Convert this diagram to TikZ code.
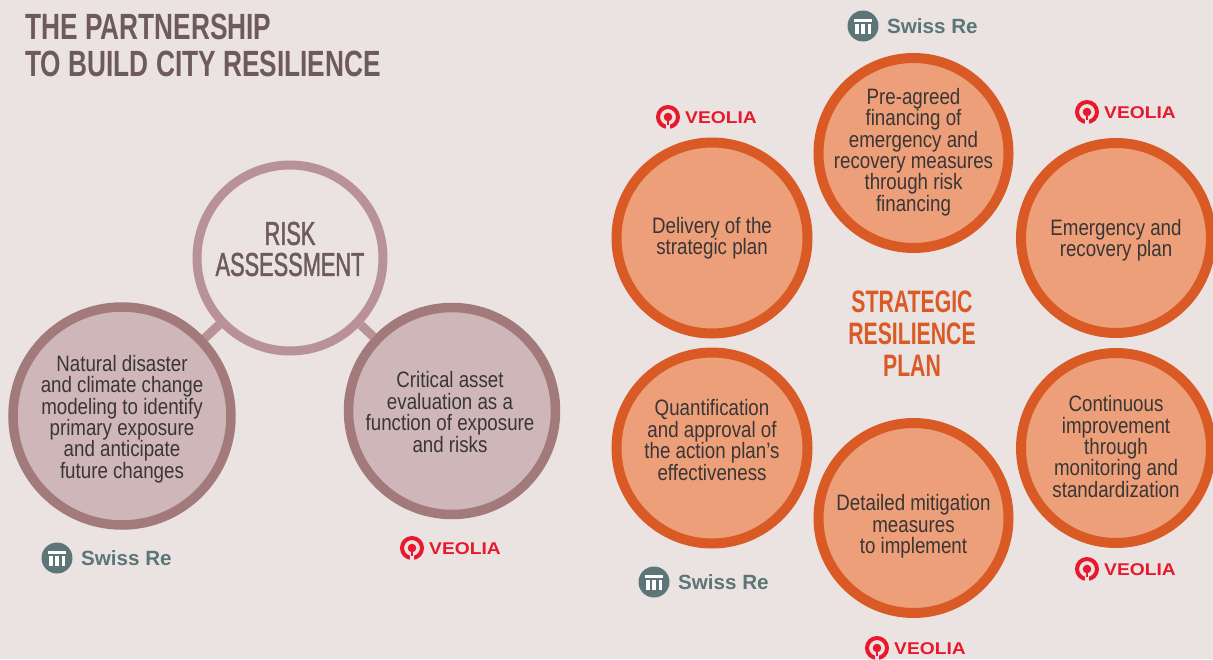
\documentclass[tikz,border=0pt]{standalone}
\usepackage{fontspec}
\setmainfont{Liberation Sans}
\newfontfamily\condf[FakeStretch=0.84]{Liberation Sans}
\newfontfamily\riskf[FakeStretch=0.66]{Liberation Sans}
\newfontfamily\titlef[FakeStretch=0.72]{Liberation Sans Bold}
\newfontfamily\planf[FakeStretch=0.685]{Liberation Sans Bold}
\newfontfamily\veof[FakeStretch=1.13]{Liberation Sans Bold}
\newfontfamily\swissf{Liberation Sans Bold}
\newcommand{\heavier}[1]{\special{pdf:code 2 Tr 0.45 w}#1\special{pdf:code 0 Tr 1 w}}
\usetikzlibrary{backgrounds,calc}
\definecolor{bg}{HTML}{EAE3E2}
\definecolor{ringA}{HTML}{B99297}
\definecolor{ringB}{HTML}{A37A7B}
\definecolor{fillB}{HTML}{CFB6B8}
\definecolor{ringC}{HTML}{DA5A25}
\definecolor{fillC}{HTML}{EC9F78}
\definecolor{titleC}{HTML}{6E5A5C}
\definecolor{teal}{HTML}{5C7677}
\definecolor{veored}{HTML}{E8192C}
\definecolor{txt}{HTML}{3A3536}
\tikzset{
 x=1pt,y=-1pt,
 bubble/.style={circle,inner sep=0pt},
 inside/.style={inner sep=0pt,align=center,text=txt,font=\condf\fontsize{22.3}{21.4}\selectfont},
 rose/.style={bubble,draw=ringB,fill=fillB,line width=9.5pt},
 orange/.style={bubble,draw=ringC,fill=fillC,line width=10pt},
 link/.style={ringA,line width=9pt},
 swisstext/.style={inner sep=0pt,anchor=west,text=teal,font=\swissf\fontsize{20.6}{22}\selectfont},
 veotext/.style={inner sep=0pt,anchor=west,text=veored,font=\veof\fontsize{17}{18}\selectfont},
}
% #1 node name, #2 x of icon centre, #3 y of icon centre
\newcommand{\swisslogo}[3]{%
 \node[circle,fill=teal,minimum size=31pt,inner sep=0pt] (#1i) at (#2,#3) {};
 \fill[white] ($(#1i.center)+(-9,-7)$) rectangle ($(#1i.center)+(9,-4)$);
 \fill[white] ($(#1i.center)+(-8,-2)$) rectangle ($(#1i.center)+(-4.5,8)$);
 \fill[white] ($(#1i.center)+(-1.7,-2)$) rectangle ($(#1i.center)+(1.7,8)$);
 \fill[white] ($(#1i.center)+(4.5,-2)$) rectangle ($(#1i.center)+(8,8)$);
 \node[swisstext] (#1t) at ($(#1i.center)+(24,0)$) {Swiss Re};
}
\newcommand{\veologo}[3]{%
 \node[circle,draw=veored,line width=4pt,minimum size=20pt,inner sep=0pt] (#1i) at (#2,#3) {};
 \fill[veored] (#1i.center) circle (4.3);
 \fill[bg] ($(#1i.center)+(-2,6)$) rectangle ($(#1i.center)+(2,13.5)$);
 \fill[veored] ($(#1i.center)+(-1.4,3)$) rectangle ($(#1i.center)+(1.4,8)$);
 \node[veotext] (#1t) at ($(#1i.center)+(17,1)$) {VEOLIA};
}
\begin{document}
\begin{tikzpicture}
\useasboundingbox (0,0) rectangle (1213,659);
\begin{scope}[on background layer]
 \fill[bg] (0,0) rectangle (1213,659);
\end{scope}
\node[inner sep=0pt,anchor=north west,align=left,text=titleC,font=\titlef\fontsize{36.5}{36.5}\selectfont] (title) at (25,14)
 {THE PARTNERSHIP\\TO BUILD CITY RESILIENCE};

\node[bubble,draw=ringA,fill=bg,line width=9pt,minimum size=186pt,
 label={[inner sep=0pt,align=center,text=titleC,font=\riskf\fontsize{33}{31}\selectfont,yshift=9pt]center:\heavier{RISK}\\\heavier{ASSESSMENT}}] (risk) at (290,258) {};
\node[rose,minimum size=218pt,
 label={[inside,yshift=-3pt]center:Natural disaster\\and climate change\\modeling to identify\\primary exposure\\and anticipate\\future changes}] (nat) at (122,416) {};
\node[rose,minimum size=207pt,
 label={[inside,yshift=-1pt,xshift=-2pt]center:Critical asset\\evaluation as a\\function of exposure\\and risks}] (crit) at (452,411) {};
\begin{scope}[on background layer]
 \draw[link] (risk) -- (nat);
 \draw[link] (risk) -- (crit);
\end{scope}
\swisslogo{s1}{57}{558}
\veologo{v1}{412}{548}

\node[orange,minimum size=190pt,
 label={[inside,yshift=1pt]center:Pre-agreed\\financing of\\emergency and\\recovery measures\\through risk\\financing}] (fin) at (913.5,153) {};
\node[orange,minimum size=191pt,
 label={[inside,yshift=-0.5pt]center:Delivery of the\\strategic plan}] (del) at (712,238) {};
\node[orange,minimum size=190pt,
 label={[inside,yshift=-2pt]center:Emergency and\\recovery plan}] (eme) at (1116,238) {};
\node[orange,minimum size=191pt,
 label={[inside,yshift=8pt]center:Quantification\\and approval of\\the action plan’s\\effectiveness}] (qua) at (712,448) {};
\node[orange,minimum size=190pt,
 label={[inside,yshift=1.5pt]center:Continuous\\improvement\\through\\monitoring and\\standardization}] (con) at (1116,448) {};
\node[orange,minimum size=190pt,
 label={[inside,yshift=-8.5pt]center:Detailed mitigation\\measures\\to implement}] (det) at (913.5,518) {};
\node[inner sep=0pt,align=center,text=ringC,font=\planf\fontsize{31}{32}\selectfont] (plan) at (912,334) {STRATEGIC\\RESILIENCE\\PLAN};

\swisslogo{s2}{863}{26}
\swisslogo{s3}{654}{582}
\veologo{v2}{668}{117}
\veologo{v3}{1087}{112}
\veologo{v4}{1087}{569}
\veologo{v5}{877}{648}
\end{tikzpicture}
\end{document}
